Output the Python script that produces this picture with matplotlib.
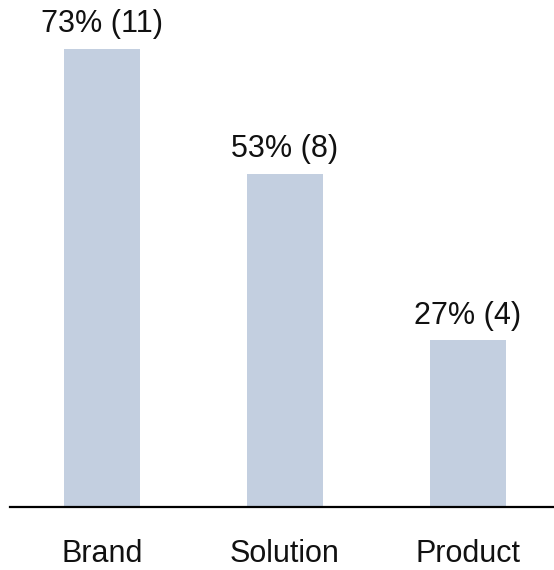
import matplotlib
matplotlib.use("Agg")
import matplotlib.pyplot as plt

categories = ["Brand", "Solution", "Product"]
counts = [11, 8, 4]
total = 15
percents = [c / total * 100 for c in counts]
labels = [f"{round(p)}% ({c})" for p, c in zip(percents, counts)]

plt.rcParams["font.family"] = ["Liberation Sans", "DejaVu Sans"]

fig = plt.figure(figsize=(5.54, 5.70), dpi=100)
ax = fig.add_axes([10 / 554, 63 / 570, 544 / 554, 507 / 570])

x = list(range(len(categories)))
ax.bar(x, percents, width=0.415, color="#C3CFE0")

for xi, p, lab in zip(x, percents, labels):
    ax.annotate(lab, (xi, p), xytext=(0, 7), textcoords="offset points",
                ha="center", va="bottom", fontsize=22, color="#111111")

ax.set_xlim(-0.503, 2.47)
ax.set_ylim(0, 81.1)
ax.set_xticks(x)
ax.set_xticklabels(categories, fontsize=22, color="#111111")
ax.tick_params(axis="x", length=0, pad=23)
ax.set_yticks([])
for s in ["top", "right", "left"]:
    ax.spines[s].set_visible(False)
ax.spines["bottom"].set_linewidth(1.6)
ax.spines["bottom"].set_color("black")

fig.savefig("out.png", dpi=100)
